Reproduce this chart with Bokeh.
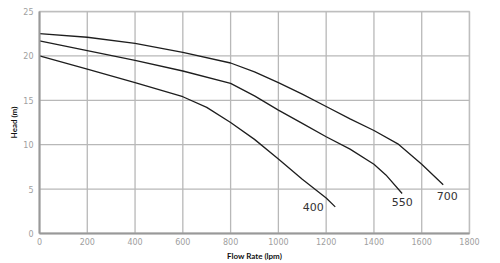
from bokeh.plotting import figure
from bokeh.models import Range1d, FixedTicker, ColumnDataSource
from bokeh.core.properties import value
from bokeh.embed import file_html
from bokeh.resources import INLINE

# Pump curves: flow rate (lpm) vs head (m)
flow_400 = [0, 200, 400, 600, 700, 800, 900, 1000, 1100, 1200, 1238]
head_400 = [20.0, 18.5, 17.0, 15.4, 14.2, 12.5, 10.6, 8.4, 6.1, 4.0, 3.0]

flow_550 = [0, 200, 400, 600, 800, 900, 1000, 1100, 1200, 1300, 1400, 1450, 1518]
head_550 = [21.7, 20.6, 19.5, 18.3, 16.9, 15.5, 13.9, 12.4, 10.9, 9.5, 7.8, 6.6, 4.5]

flow_700 = [0, 200, 400, 600, 800, 900, 1000, 1100, 1200, 1300, 1400, 1500, 1600, 1690]
head_700 = [22.5, 22.1, 21.4, 20.4, 19.2, 18.2, 17.0, 15.7, 14.3, 12.9, 11.6, 10.1, 7.8, 5.5]

curve_names = ["400", "550", "700"]
x_ticks = [0, 200, 400, 600, 800, 1000, 1200, 1400, 1600, 1800]
y_ticks = [0, 5, 10, 15, 20, 25]

x_min, x_max = x_ticks[0], x_ticks[-1]
y_min, y_max = y_ticks[0], y_ticks[-1]

p = figure(width=500, height=263, output_backend="svg", toolbar_location=None,
           x_range=Range1d(x_min, x_max), y_range=Range1d(y_min, y_max),
           min_border_left=39, min_border_right=31, min_border_top=11, min_border_bottom=30)
p.background_fill_color = "white"
p.border_fill_color = "white"
p.outline_line_color = "#c4c4c4"
p.outline_line_width = 1.5
p.xgrid.visible = False
p.ygrid.visible = False

p.xaxis.ticker = FixedTicker(ticks=x_ticks)
p.yaxis.ticker = FixedTicker(ticks=y_ticks)

for ax in (p.xaxis[0], p.yaxis[0]):
    ax.major_tick_line_color = None
    ax.minor_tick_line_color = None
    ax.major_tick_out = 0
    ax.major_tick_in = 0
    ax.minor_tick_out = 0
    ax.minor_tick_in = 0
    ax.axis_line_color = "#999999"
    ax.axis_line_width = 2
    ax.major_label_text_font = "DejaVu Sans"
    ax.major_label_text_font_size = "8px"
    ax.major_label_text_color = "#a0a0a0"
    ax.axis_label_text_font = "Lato"
    ax.axis_label_text_font_style = "bold"
    ax.axis_label_text_font_size = "8px"
    ax.axis_label_text_color = "#111111"

p.xaxis.axis_label = "Flow Rate (lpm)"
p.yaxis.axis_label = "Head (m)"
p.xaxis.major_label_standoff = 4
p.yaxis.major_label_standoff = 6
p.xaxis.axis_label_standoff = 3
p.yaxis.axis_label_standoff = 1

# grid lines, one line glyph per tick
for t in x_ticks:
    p.line([t, t], [y_min, y_max], line_color="#b8b8b8", line_width=1.3)
for t in y_ticks:
    p.line([x_min, x_max], [t, t], line_color="#b8b8b8", line_width=1.3)

curves = [(flow_400, head_400), (flow_550, head_550), (flow_700, head_700)]
for fx, hy in curves:
    p.line(fx, hy, line_color="#1e1e1e", line_width=1.3)

# labels anchored at curve end points
offsets_x = [-22, 0, 4]
offsets_y = [0, 8, 11]
for (fx, hy), name, ox, oy in zip(curves, curve_names, offsets_x, offsets_y):
    src = ColumnDataSource(dict(x=[fx[-1]], y=[hy[-1]], t=[name]))
    p.text(x="x", y="y", text="t", source=src, x_offset=ox, y_offset=oy,
           text_align="center", text_baseline="middle",
           text_font=value("DejaVu Sans"), text_font_size="11px", text_color="#333333")

open("out.html", "w").write(file_html(p, INLINE))
